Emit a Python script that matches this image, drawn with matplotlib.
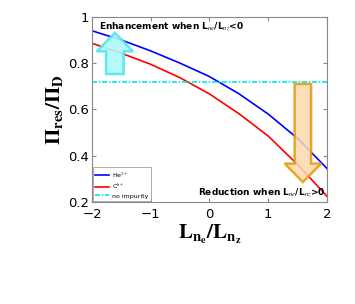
import numpy as np
import matplotlib
matplotlib.use("Agg")
import matplotlib.pyplot as plt
from matplotlib.patches import FancyArrow

x = [-2, -1.5, -1, -0.5, 0, 0.5, 1, 1.5, 2]
he = [0.94, 0.90, 0.853, 0.80, 0.742, 0.668, 0.58, 0.475, 0.345]
c6 = [0.886, 0.843, 0.795, 0.737, 0.667, 0.582, 0.485, 0.362, 0.225]
no_imp = 0.72
labels = ["He$^{2+}$", "C$^{6+}$", "no impurity"]

plt.rcParams['mathtext.fontset'] = 'stix'
fig = plt.figure(figsize=(3.55, 3.04), dpi=100)
ax = fig.add_axes([0.259, 0.3355, 0.662, 0.609])

ax.plot(x, he, color='#0000ff', lw=1.2, label=labels[0])
ax.plot(x, c6, color='#ff0000', lw=1.2, label=labels[1])
ax.axhline(no_imp, color='#00e5ee', lw=1.2, ls=(0, (3, 1, 1, 1)), label=labels[2])

# arrows
ax.add_patch(FancyArrow(-1.61, 0.753, 0, 0.931 - 0.753, width=0.30, head_width=0.62,
                        head_length=0.08, length_includes_head=True,
                        facecolor='#b0f8f8', edgecolor='#50e6f0', lw=1.8, alpha=0.9, zorder=3))
ax.add_patch(FancyArrow(1.59, 0.71, 0, 0.286 - 0.71, width=0.28, head_width=0.62,
                        head_length=0.08, length_includes_head=True,
                        facecolor='#fcd9b0', edgecolor='#e29a10', lw=1.8, alpha=0.85, zorder=3))

ax.set_xlim(-2, 2)
ax.set_ylim(0.2, 1.0)
ax.set_xticks([-2, -1, 0, 1, 2])
ax.set_yticks([0.2, 0.4, 0.6, 0.8, 1.0])
ax.set_yticklabels(['0.2', '0.4', '0.6', '0.8', '1'])
ax.tick_params(direction='in', top=True, right=True, labelsize=9.5, length=3,
               color='#888888')
ax.tick_params(axis='x', pad=4)
ax.tick_params(axis='y', pad=2)
for s in ax.spines.values():
    s.set_color('#888888')
    s.set_linewidth(0.8)

ax.text(-1.88, 0.985, r'Enhancement when L$_{ne}$/L$_{nz}$<0', fontsize=6.5,
        fontweight='bold', va='top', ha='left', family='DejaVu Sans')
ax.text(1.97, 0.215, r'Reduction when L$_{ne}$/L$_{nz}$>0', fontsize=6.5,
        fontweight='bold', va='bottom', ha='right', family='DejaVu Sans')

leg = ax.legend(loc='lower left', fontsize=4.5, frameon=True, fancybox=False,
                edgecolor='#888888', handlelength=2.2, borderpad=0.4,
                labelspacing=0.3, borderaxespad=0.15, handletextpad=0.4)
leg.get_frame().set_linewidth(0.6)

ax.set_xlabel(r'$\mathbf{L_{n_e}/L_{n_z}}$', fontsize=15, labelpad=2)
ax.set_ylabel(r'$\mathbf{\Pi_{res}/\Pi_D}$', fontsize=15, labelpad=2)

fig.savefig('out.png', dpi=100)
